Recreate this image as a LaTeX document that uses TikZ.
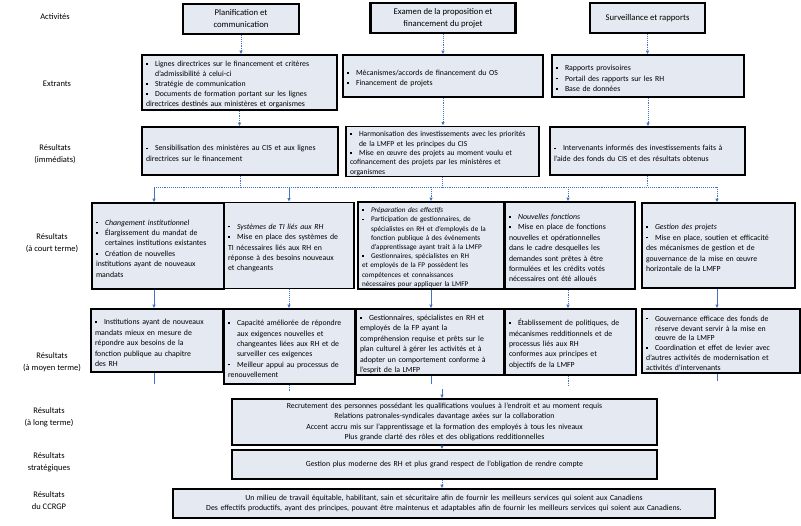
\documentclass[tikz,border=0pt]{standalone}
\usepackage{fontspec}
\setmainfont{Carlito}
\usetikzlibrary{arrows.meta,calc}
\definecolor{boxfill}{RGB}{228,233,242}
\definecolor{conn}{RGB}{68,114,196}
\newcommand\bi{\par\hangindent=9pt\hangafter=1\noindent\hbox to 9pt{\raisebox{1.8pt}{\rule{1.6pt}{1.6pt}}\hfil}}
\newcommand\nl{\newline}
\begin{document}
\hyphenpenalty=10000 \exhyphenpenalty=10000
\begin{tikzpicture}[x=1pt,y=-1pt,
 box/.style={draw=black,line width=1.6pt,fill=boxfill,inner xsep=4pt,inner ysep=1pt,align=left,font=\fontsize{7.8}{10.4}\selectfont},
 actbox/.style={draw=black,line width=2.2pt,fill=boxfill,align=center,font=\fontsize{8.7}{12}\selectfont,inner sep=1pt},
 cbox/.style={box,align=center},
 lab/.style={align=center,font=\fontsize{8.5}{12}\selectfont},
 sol/.style={draw=conn,line width=0.9pt},
 dot/.style={draw=conn,line width=0.9pt,densely dotted},
 arr/.style={-{Latex[length=3.5pt,width=3.5pt]}},
]
\useasboundingbox (0,0) rectangle (801,526);

% row labels
\node[lab] (l1) at (55,17) {Activités};
\node[lab] (l2) at (57,84) {Extrants};
\node[lab] (l3) at (55,154) {Résultats\\(immédiats)};
\node[lab] (l4) at (52,243) {Résultats\\(à court terme)};
\node[lab] (l5) at (52,362) {Résultats\\(à moyen terme)};
\node[lab] (l6) at (49,417) {Résultats\\(à long terme)};
\node[lab] (l7) at (49,462) {Résultats\\stratégiques};
\node[lab] (l8) at (49,501) {Résultats\\du CCRGP};

% activities
\node[actbox,minimum width=116pt,minimum height=30pt] (act1) at (241,19) {Planification et\\communication};
\node[actbox,minimum width=145pt,minimum height=30pt] (act2) at (443,18) {Examen de la proposition et\\financement du projet};
\node[actbox,minimum width=115pt,minimum height=30pt] (act3) at (647.5,18) {Surveillance et rapports};

% extrants
\node[box,text width=187pt,minimum height=55pt,font=\fontsize{7.8}{10}\selectfont] (A) at (239.5,82.5) {\bi Lignes directrices sur le financement et critères\nl d'admissibilité à celui-ci\bi Stratégie de communication\bi Documents de formation portant sur les lignes\nl directrices destinés aux ministères et organismes};
\node[box,text width=192pt,minimum height=42pt] (B) at (443,76) {\bi Mécanismes/accords de financement du OS\bi Financement de projets};
\node[box,text width=184pt,minimum height=42pt] (C) at (648,76) {\bi Rapports provisoires\bi Portail des rapports sur les RH\bi Base de données};

% immediate
\node[box,text width=188pt,minimum height=48pt] (D) at (240,151) {\bi Sensibilisation des ministères au CIS et aux lignes\nl directrices sur le financement};
\node[box,text width=185pt,minimum height=49pt,font=\fontsize{7.6}{9.4}\selectfont] (E) at (442.5,151.5) {\bi Harmonisation des investissements avec les priorités\nl de la LMFP et les principes du CIS\bi Mise en œuvre des projets au moment voulu et\nl cofinancement des projets par les ministères et\nl organismes};
\node[box,text width=187pt,minimum height=48pt] (F) at (647.5,151) {\bi Intervenants informés des investissements faits à\nl l'aide des fonds du CIS et des résultats obtenus};

% short term
\node[box,text width=124pt,minimum height=86pt] (G) at (158,246) {\bi \textit{Changement institutionnel}\bi Élargissement du mandat de\nl certaines institutions existantes\bi Création de nouvelles\nl institutions ayant de nouveaux\nl mandats};
\node[box,text width=122pt,minimum height=86pt] (H) at (289,245.5) {\bi \textit{Systèmes de TI liés aux RH}\bi Mise en place des systèmes de\nl TI nécessaires liés aux RH en\nl réponse à des besoins nouveaux\nl et changeants};
\node[box,text width=138pt,minimum height=87pt,font=\fontsize{7.2}{9.2}\selectfont] (I) at (431,245.5) {\bi \textit{Préparation des effectifs}\bi Participation de gestionnaires, de\nl spécialistes en RH et d'employés de la\nl fonction publique à des événements\nl d'apprentissage ayant trait à la LMFP\bi Gestionnaires, spécialistes en RH\nl et employés de la FP possèdent les\nl compétences et connaissances\nl nécessaires pour appliquer la LMFP};
\node[box,text width=122pt,minimum height=87pt] (J) at (570,245.5) {\bi \textit{Nouvelles fonctions}\bi Mise en place de fonctions\nl nouvelles et opérationnelles\nl dans le cadre desquelles les\nl demandes sont prêtes à être\nl formulées et les crédits votés\nl nécessaires ont été alloués};
\node[box,text width=145pt,minimum height=85pt] (K) at (718.5,245.5) {\bi \textit{Gestion des projets}\bi Mise en place, soutien et efficacité\nl des mécanismes de gestion et de\nl gouvernance de la mise en œuvre\nl horizontale de la LMFP};

% medium term
\node[box,text width=124pt,minimum height=63pt] (L) at (157,340.5) {\bi Institutions ayant de nouveaux\nl mandats mieux en mesure de\nl répondre aux besoins de la\nl fonction publique au chapitre\nl des RH};
\node[box,text width=123pt,minimum height=75pt] (M) at (289.5,346.5) {\bi Capacité améliorée de répondre\nl aux exigences nouvelles et\nl changeantes liées aux RH et de\nl surveiller ces exigences\bi Meilleur appui au processus de\nl renouvellement};
\node[box,text width=140pt,minimum height=66pt] (N) at (430,342) {\bi Gestionnaires, spécialistes en RH et\nl employés de la FP ayant la\nl compréhension requise et prêts sur le\nl plan culturel à gérer les activités et à\nl adopter un comportement conforme à\nl l'esprit de la LMFP};
\node[box,text width=123pt,minimum height=66pt] (O) at (570.5,342) {\bi Établissement de politiques, de\nl mécanismes redditionnels et de\nl processus liés aux RH\nl conformes aux principes et\nl objectifs de la LMFP};
\node[box,text width=150pt,minimum height=64pt,font=\fontsize{7.8}{9.9}\selectfont] (P) at (721,341) {\bi Gouvernance efficace des fonds de\nl réserve devant servir à la mise en\nl œuvre de la LMFP\bi Coordination et effet de levier avec\nl d'autres activités de modernisation et\nl activités d'intervenants};

% long term, strategic, CCRGP
\node[cbox,text width=417pt,minimum height=46pt] (long) at (444.5,422) {Recrutement des personnes possédant les qualifications voulues à l'endroit et au moment requis\\Relations patronales-syndicales davantage axées sur la collaboration\\Accent accru mis sur l'apprentissage et la formation des employés à tous les niveaux\\Plus grande clarté des rôles et des obligations redditionnelles};
\node[cbox,text width=417pt,minimum height=29pt] (strat) at (444.5,464.5) {Gestion plus moderne des RH et plus grand respect de l'obligation de rendre compte};
\node[cbox,text width=534pt,minimum height=29pt] (ccrgp) at (444,503.5) {Un milieu de travail équitable, habilitant, sain et sécuritaire afin de fournir les meilleurs services qui soient aux Canadiens\\Des effectifs productifs, ayant des principes, pouvant être maintenus et adaptables afin de fournir les meilleurs services qui soient aux Canadiens.};

% connectors: activities -> outputs -> immediate
\draw[dot,arr] (act1.south) -- (act1.south |- A.north);
\draw[dot,arr] (act2.south) -- (act2.south |- B.north);
\draw[dot,arr] (act3.south) -- (act3.south |- C.north);
\draw[dot,arr] (A.south) -- (A.south |- D.north);
\draw[dot,arr] (B.south) -- (B.south |- E.north);
\draw[dot,arr] (C.south) -- (C.south |- F.north);

% bus
\coordinate (b1) at (154,187);
\coordinate (b2) at (289,187);
\coordinate (b3) at (431,187);
\coordinate (b4) at (568,187);
\coordinate (b5) at (717,187);
\draw[dot] (b1) -- (b5);
\draw[dot] (D.south) -- (D.south |- b1);
\draw[dot] (E.south) -- (E.south |- b1);
\draw[dot] (F.south) -- (F.south |- b1);
\draw[sol,arr] (b1) -- (b1 |- G.north);
\draw[sol,arr] (b2) -- (b2 |- H.north);
\draw[dot,arr] (b3) -- (b3 |- I.north);
\draw[dot,arr] (b4) -- (b4 |- J.north);
\draw[dot,arr] (b5) -- (b5 |- K.north);

% short -> medium
\draw[sol,arr] (G.south -| b1) -- (L.north -| b1);
\draw[dot,arr] (H.south -| b2) -- (M.north -| b2);
\draw[sol,arr] (I.south -| b3) -- (N.north -| b3);
\draw[dot,arr] (J.south -| b4) -- (O.north -| b4);
\draw[sol,arr] (K.south -| b5) -- (P.north -| b5);

% medium stubs
\coordinate (s1) at (154,384);
\coordinate (s2) at (289,391);
\coordinate (s3) at (431,384);
\coordinate (s4) at (568,386);
\coordinate (s5) at (717,381);
\draw[sol] (L.south -| s1) -- (s1);
\draw[dot] (M.south -| s2) -- (s2);
\draw[sol] (N.south -| s3) -- (s3);
\draw[dot] (O.south -| s4) -- (s4);
\draw[sol] (P.south -| s5) -- (s5);

% long / strategic / ccrgp
\coordinate (lt) at (442,389);
\draw[sol,arr] (lt) -- (lt |- long.north);
\draw[sol,arr] (long.south -| lt) -- (strat.north -| lt);
\draw[dot,arr] (strat.south -| lt) -- (ccrgp.north -| lt);
\end{tikzpicture}
\end{document}
